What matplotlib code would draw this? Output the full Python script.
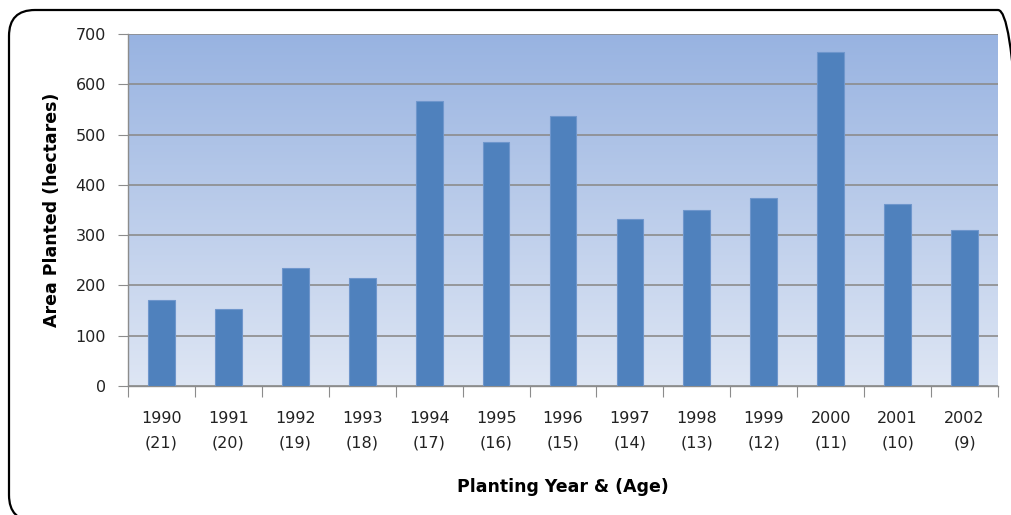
import matplotlib.pyplot as plt
import numpy as np
from matplotlib.patches import FancyBboxPatch
from matplotlib.colors import LinearSegmentedColormap

# planting area per year, with stand age in brackets
years = ['1990', '1991', '1992', '1993', '1994', '1995', '1996',
         '1997', '1998', '1999', '2000', '2001', '2002']
ages = ['21', '20', '19', '18', '17', '16', '15', '14', '13', '12', '11', '10', '9']
area = [172, 153, 235, 214, 566, 486, 536, 333, 350, 374, 665, 361, 310]

labels = [f'{y}\n({a})' for y, a in zip(years, ages)]

fig = plt.figure(figsize=(10.11, 5.15), dpi=100)
ax = fig.add_axes([128 / 1011, 1 - 386 / 515, 870 / 1011, 352 / 515])

# rounded frame round the whole chart (in inches so the corners stay round)
frame = FancyBboxPatch((0.09, -0.06), 10.15, 5.11,
                       boxstyle='round,pad=0,rounding_size=0.26',
                       transform=fig.dpi_scale_trans, fill=False,
                       edgecolor='black', linewidth=1.6)
fig.patches.append(frame)

# vertical gradient behind the bars
cmap = LinearSegmentedColormap.from_list('bg', ['#dee6f4', '#98b3e1'])
grad = np.linspace(0, 1, 256).reshape(-1, 1)
ax.imshow(grad, aspect='auto', cmap=cmap, origin='lower',
          extent=[-0.5, len(years) - 0.5, 0, 700], zorder=0)

x = np.arange(len(years))
ax.bar(x, area, width=0.4, color='#4f81bd', edgecolor='#6f96cc',
       linewidth=0.8, zorder=3)

ax.set_xlim(-0.5, len(years) - 0.5)
ax.set_ylim(0, 700)
ax.set_yticks(range(0, 701, 100))
ax.yaxis.grid(True, color='#8c8c8c', linewidth=1.2, zorder=1)
ax.set_axisbelow(True)

for s in ['top', 'right']:
    ax.spines[s].set_visible(False)
ax.spines['left'].set_color('#8c8c8c')
ax.spines['bottom'].set_color('#8c8c8c')
ax.spines['left'].set_linewidth(1.0)
ax.spines['bottom'].set_linewidth(1.0)

# category ticks sit between the bars
ax.set_xticks(np.arange(-0.5, len(years)), minor=False)
ax.set_xticklabels([])
ax.set_xticks(x, minor=True)
ax.set_xticklabels(labels, minor=True, fontsize=11.5, color='#222222',
                   linespacing=1.8)
ax.tick_params(axis='x', which='major', length=8, color='#8c8c8c', direction='out')
ax.tick_params(axis='x', which='minor', length=0, pad=18)
ax.tick_params(axis='y', length=7, color='#8c8c8c', labelsize=11.5,
               labelcolor='#222222', pad=9)

ax.set_ylabel('Area Planted (hectares)', fontsize=12.5, fontweight='bold',
              labelpad=10)
ax.set_xlabel('Planting Year & (Age)', fontsize=12.5, fontweight='bold',
              labelpad=20)

fig.savefig('out.png', dpi=100)
